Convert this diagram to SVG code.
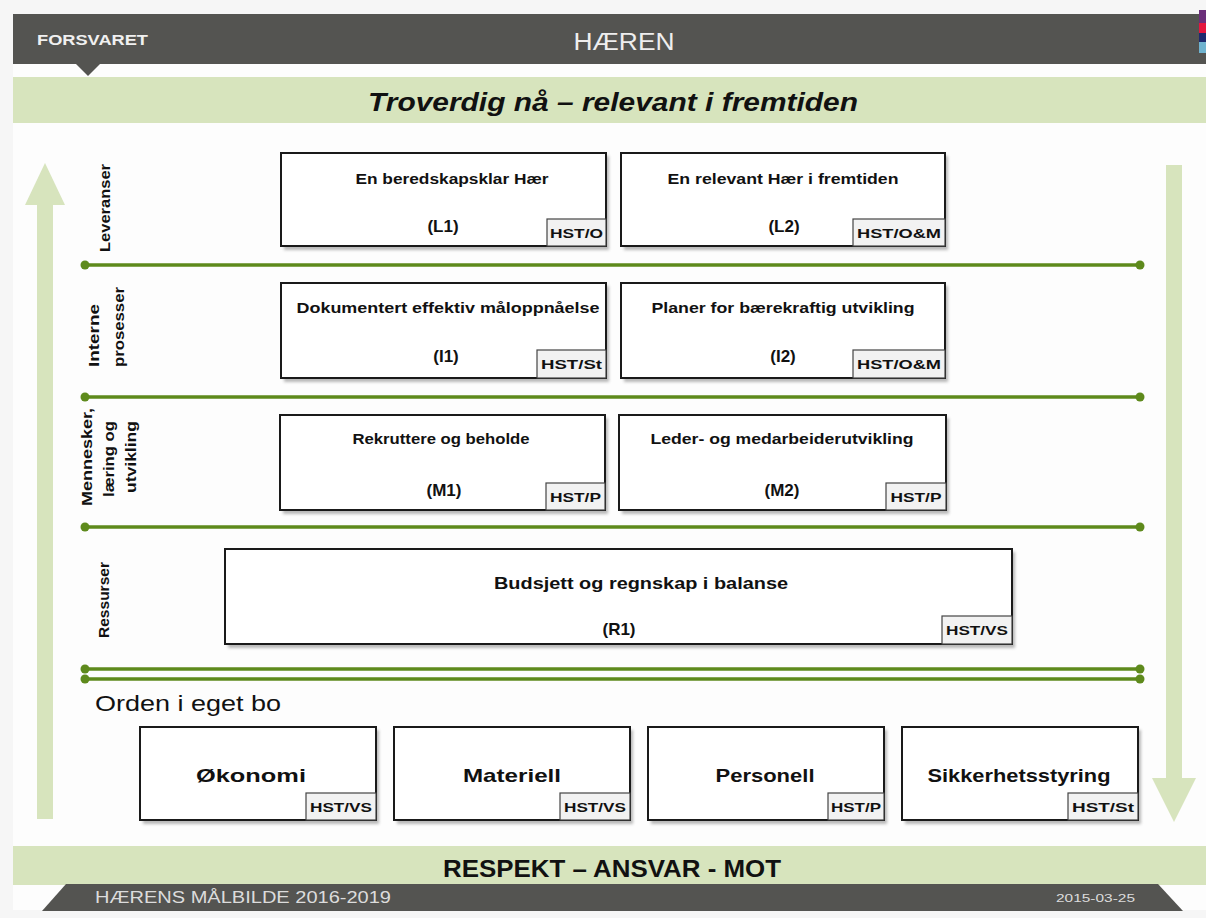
<svg xmlns="http://www.w3.org/2000/svg" width="1206" height="918" viewBox="0 0 1206 918">
<defs>
<style>
.box{fill:#fff;stroke:#1a1a1a;stroke-width:2}
.shadow{fill:#b8b8b8}
.tag{fill:#f2f2f2;stroke:#444;stroke-width:1.2}
.t{font-family:"Liberation Sans",Arial,sans-serif;font-weight:bold;fill:#111}
.title{font-size:14px}
.code{font-size:17px}
.tagt{font-size:13px}
.big{font-size:19px}
.side{font-family:"Liberation Sans",Arial,sans-serif;font-weight:bold;font-size:14px;fill:#111}
.gl{stroke:#5e8a1c;stroke-width:3.5;fill:none}
.dot{fill:#5e8a1c}
</style>
<filter id="sh" x="-5%" y="-5%" width="110%" height="120%"><feGaussianBlur stdDeviation="1.5"/></filter>
</defs>
<rect x="0" y="0" width="1206" height="918" fill="#f6f6f6"/>
<rect x="13" y="64" width="1193" height="846" fill="#fdfdfd"/>

<!-- header -->
<g id="header">
<rect x="13" y="14" width="1187" height="50" fill="#545451"/>
<rect x="1199" y="10" width="7" height="13" fill="#6b2f7a"/>
<rect x="1199" y="23" width="7" height="10" fill="#e4173e"/>
<rect x="1199" y="33" width="7" height="9" fill="#1e2a6e"/>
<rect x="1199" y="42" width="7" height="11" fill="#6fb3cf"/>
<rect x="1199" y="53" width="7" height="11" fill="#545451"/>
<polygon points="75,63 101,63 88,76" fill="#545451"/>
<text x="37" y="45" font-family="Liberation Sans,Arial,sans-serif" font-weight="bold" font-size="14" fill="#f0f0f0" textLength="111" lengthAdjust="spacingAndGlyphs">FORSVARET</text>
<text x="624" y="50" text-anchor="middle" font-family="Liberation Sans,Arial,sans-serif" font-size="23" fill="#eeeeee" textLength="101" lengthAdjust="spacingAndGlyphs">HÆREN</text>
</g>

<g id="topband">
<rect x="13" y="77" width="1193" height="46" fill="#d7e4bd"/>
<text x="613" y="111" text-anchor="middle" font-family="Liberation Sans,Arial,sans-serif" font-weight="bold" font-style="italic" font-size="26" fill="#111" textLength="490" lengthAdjust="spacingAndGlyphs">Troverdig nå – relevant i fremtiden</text>
</g>

<!-- side arrows -->
<g id="arrow-up">
<rect x="37" y="203" width="16" height="616" fill="#d7e4bd"/>
<polygon points="25,205 45,163 65,205" fill="#d7e4bd"/>
</g>
<g id="arrow-down">
<rect x="1166" y="165" width="16" height="615" fill="#d7e4bd"/>
<polygon points="1152,778 1196,778 1174,822" fill="#d7e4bd"/>
</g>

<!-- side labels -->
<g id="label-leveranser"><text class="side" transform="translate(110,208) rotate(-90)" text-anchor="middle" textLength="88" lengthAdjust="spacingAndGlyphs">Leveranser</text></g>
<g id="label-interne"><text class="side" transform="translate(99,367) rotate(-90)" textLength="63" lengthAdjust="spacingAndGlyphs">Interne</text><text class="side" transform="translate(124,367) rotate(-90)" textLength="80" lengthAdjust="spacingAndGlyphs">prosesser</text></g>
<g id="label-mennesker"><text class="side" transform="translate(92,457) rotate(-90)" text-anchor="middle" textLength="98" lengthAdjust="spacingAndGlyphs">Mennesker,</text><text class="side" transform="translate(114,459) rotate(-90)" text-anchor="middle" textLength="76" lengthAdjust="spacingAndGlyphs">læring og</text><text class="side" transform="translate(136,457) rotate(-90)" text-anchor="middle" textLength="72" lengthAdjust="spacingAndGlyphs">utvikling</text></g>
<g id="label-ressurser"><text class="side" transform="translate(109,600) rotate(-90)" text-anchor="middle" textLength="76" lengthAdjust="spacingAndGlyphs">Ressurser</text></g>

<!-- connectors / separators -->
<g id="connectors">
<line class="gl" x1="85" y1="265" x2="1140" y2="265"/>
<line class="gl" x1="85" y1="397" x2="1140" y2="397"/>
<line class="gl" x1="85" y1="527" x2="1140" y2="527"/>
<line class="gl" x1="85" y1="669" x2="1140" y2="669"/>
<line class="gl" x1="85" y1="679" x2="1140" y2="679"/>
<circle class="dot" cx="85" cy="265" r="4.5"/><circle class="dot" cx="1140" cy="265" r="4.5"/>
<circle class="dot" cx="85" cy="397" r="4.5"/><circle class="dot" cx="1140" cy="397" r="4.5"/>
<circle class="dot" cx="85" cy="527" r="4.5"/><circle class="dot" cx="1140" cy="527" r="4.5"/>
<circle class="dot" cx="85" cy="669" r="4.5"/><circle class="dot" cx="1140" cy="669" r="4.5"/>
<circle class="dot" cx="85" cy="679" r="4.5"/><circle class="dot" cx="1140" cy="679" r="4.5"/>
</g>

<!-- row 1 -->
<g id="L1">
<rect class="shadow" x="284" y="156" width="325" height="94" filter="url(#sh)"/>
<rect class="box" x="281" y="153" width="325" height="93"/>
<text class="t title" x="452" y="184" text-anchor="middle" textLength="193" lengthAdjust="spacingAndGlyphs">En beredskapsklar Hær</text>
<text class="t code" x="443" y="232" text-anchor="middle">(L1)</text>
<rect class="tag" x="547" y="219" width="59" height="27"/>
<text class="t tagt" x="576.5" y="238" text-anchor="middle" textLength="53" lengthAdjust="spacingAndGlyphs">HST/O</text>
</g>
<g id="L2">
<rect class="shadow" x="624" y="156" width="324" height="94" filter="url(#sh)"/>
<rect class="box" x="621" y="153" width="324" height="93"/>
<text class="t title" x="783" y="184" text-anchor="middle" textLength="231" lengthAdjust="spacingAndGlyphs">En relevant Hær i fremtiden</text>
<text class="t code" x="784" y="232" text-anchor="middle">(L2)</text>
<rect class="tag" x="853" y="219" width="92" height="27"/>
<text class="t tagt" x="899" y="238" text-anchor="middle" textLength="84" lengthAdjust="spacingAndGlyphs">HST/O&amp;M</text>
</g>

<!-- row 2 -->
<g id="I1">
<rect class="shadow" x="284" y="286" width="325" height="96" filter="url(#sh)"/>
<rect class="box" x="281" y="283" width="325" height="95"/>
<text class="t title" x="448" y="313" text-anchor="middle" textLength="303" lengthAdjust="spacingAndGlyphs">Dokumentert effektiv måloppnåelse</text>
<text class="t code" x="446" y="362" text-anchor="middle">(I1)</text>
<rect class="tag" x="537" y="350" width="69" height="28"/>
<text class="t tagt" x="571.5" y="369" text-anchor="middle" textLength="61" lengthAdjust="spacingAndGlyphs">HST/St</text>
</g>
<g id="I2">
<rect class="shadow" x="624" y="286" width="324" height="96" filter="url(#sh)"/>
<rect class="box" x="621" y="283" width="324" height="95"/>
<text class="t title" x="783" y="313" text-anchor="middle" textLength="263" lengthAdjust="spacingAndGlyphs">Planer for bærekraftig utvikling</text>
<text class="t code" x="783" y="362" text-anchor="middle">(I2)</text>
<rect class="tag" x="853" y="350" width="92" height="28"/>
<text class="t tagt" x="899" y="369" text-anchor="middle" textLength="84" lengthAdjust="spacingAndGlyphs">HST/O&amp;M</text>
</g>

<!-- row 3 -->
<g id="M1">
<rect class="shadow" x="283" y="418" width="325" height="96" filter="url(#sh)"/>
<rect class="box" x="280" y="415" width="325" height="95"/>
<text class="t title" x="441" y="444" text-anchor="middle" textLength="177" lengthAdjust="spacingAndGlyphs">Rekruttere og beholde</text>
<text class="t code" x="444" y="496" text-anchor="middle">(M1)</text>
<rect class="tag" x="546" y="483" width="59" height="27"/>
<text class="t tagt" x="575.5" y="502" text-anchor="middle" textLength="51" lengthAdjust="spacingAndGlyphs">HST/P</text>
</g>
<g id="M2">
<rect class="shadow" x="622" y="418" width="327" height="96" filter="url(#sh)"/>
<rect class="box" x="619" y="415" width="327" height="95"/>
<text class="t title" x="782" y="444" text-anchor="middle" textLength="263" lengthAdjust="spacingAndGlyphs">Leder- og medarbeiderutvikling</text>
<text class="t code" x="782" y="496" text-anchor="middle">(M2)</text>
<rect class="tag" x="886" y="483" width="60" height="27"/>
<text class="t tagt" x="916" y="502" text-anchor="middle" textLength="51" lengthAdjust="spacingAndGlyphs">HST/P</text>
</g>

<!-- row 4 -->
<g id="R1">
<rect class="shadow" x="228" y="552" width="787" height="96" filter="url(#sh)"/>
<rect class="box" x="225" y="549" width="787" height="95"/>
<text class="t" x="641" y="589" text-anchor="middle" font-size="16" textLength="294" lengthAdjust="spacingAndGlyphs">Budsjett og regnskap i balanse</text>
<text class="t code" x="619" y="635" text-anchor="middle">(R1)</text>
<rect class="tag" x="942" y="616" width="70" height="28"/>
<text class="t tagt" x="977" y="635" text-anchor="middle" textLength="62" lengthAdjust="spacingAndGlyphs">HST/VS</text>
</g>

<text x="95" y="711" font-family="Liberation Sans,Arial,sans-serif" font-size="22" fill="#111" textLength="186" lengthAdjust="spacingAndGlyphs">Orden i eget bo</text>

<!-- bottom row -->
<g id="Okonomi">
<rect class="shadow" x="143" y="730" width="236" height="94" filter="url(#sh)"/>
<rect class="box" x="140" y="727" width="236" height="93"/>
<text class="t big" x="251" y="782" text-anchor="middle" textLength="110" lengthAdjust="spacingAndGlyphs">Økonomi</text>
<rect class="tag" x="306" y="793" width="70" height="27"/>
<text class="t tagt" x="341" y="812" text-anchor="middle" textLength="62" lengthAdjust="spacingAndGlyphs">HST/VS</text>
</g>
<g id="Materiell">
<rect class="shadow" x="397" y="730" width="236" height="94" filter="url(#sh)"/>
<rect class="box" x="394" y="727" width="236" height="93"/>
<text class="t big" x="512" y="782" text-anchor="middle" textLength="98" lengthAdjust="spacingAndGlyphs">Materiell</text>
<rect class="tag" x="560" y="793" width="70" height="27"/>
<text class="t tagt" x="595" y="812" text-anchor="middle" textLength="62" lengthAdjust="spacingAndGlyphs">HST/VS</text>
</g>
<g id="Personell">
<rect class="shadow" x="651" y="730" width="236" height="94" filter="url(#sh)"/>
<rect class="box" x="648" y="727" width="236" height="93"/>
<text class="t big" x="765" y="782" text-anchor="middle" textLength="99" lengthAdjust="spacingAndGlyphs">Personell</text>
<rect class="tag" x="828" y="793" width="56" height="27"/>
<text class="t tagt" x="856" y="812" text-anchor="middle" textLength="50" lengthAdjust="spacingAndGlyphs">HST/P</text>
</g>
<g id="Sikkerhetsstyring">
<rect class="shadow" x="905" y="730" width="236" height="94" filter="url(#sh)"/>
<rect class="box" x="902" y="727" width="236" height="93"/>
<text class="t big" x="1019" y="782" text-anchor="middle" textLength="183" lengthAdjust="spacingAndGlyphs">Sikkerhetsstyring</text>
<rect class="tag" x="1068" y="793" width="70" height="27"/>
<text class="t tagt" x="1103" y="812" text-anchor="middle" textLength="62" lengthAdjust="spacingAndGlyphs">HST/St</text>
</g>

<!-- bottom band -->
<g id="bottomband">
<rect x="13" y="846" width="1193" height="39" fill="#d7e4bd"/>
<text x="612" y="877" text-anchor="middle" font-family="Liberation Sans,Arial,sans-serif" font-weight="bold" font-size="24" fill="#111" textLength="338" lengthAdjust="spacingAndGlyphs">RESPEKT – ANSVAR - MOT</text>
</g>
<g id="footer">
<polygon points="66,884 1158,884 1183,911 42,911" fill="#545451"/>
<text x="95" y="903" font-family="Liberation Sans,Arial,sans-serif" font-size="16" fill="#dcdcdc" textLength="296" lengthAdjust="spacingAndGlyphs">HÆRENS MÅLBILDE 2016-2019</text>
<text x="1056" y="902" font-family="Liberation Sans,Arial,sans-serif" font-size="11" fill="#dcdcdc" textLength="79" lengthAdjust="spacingAndGlyphs">2015-03-25</text>
</g>
</svg>
